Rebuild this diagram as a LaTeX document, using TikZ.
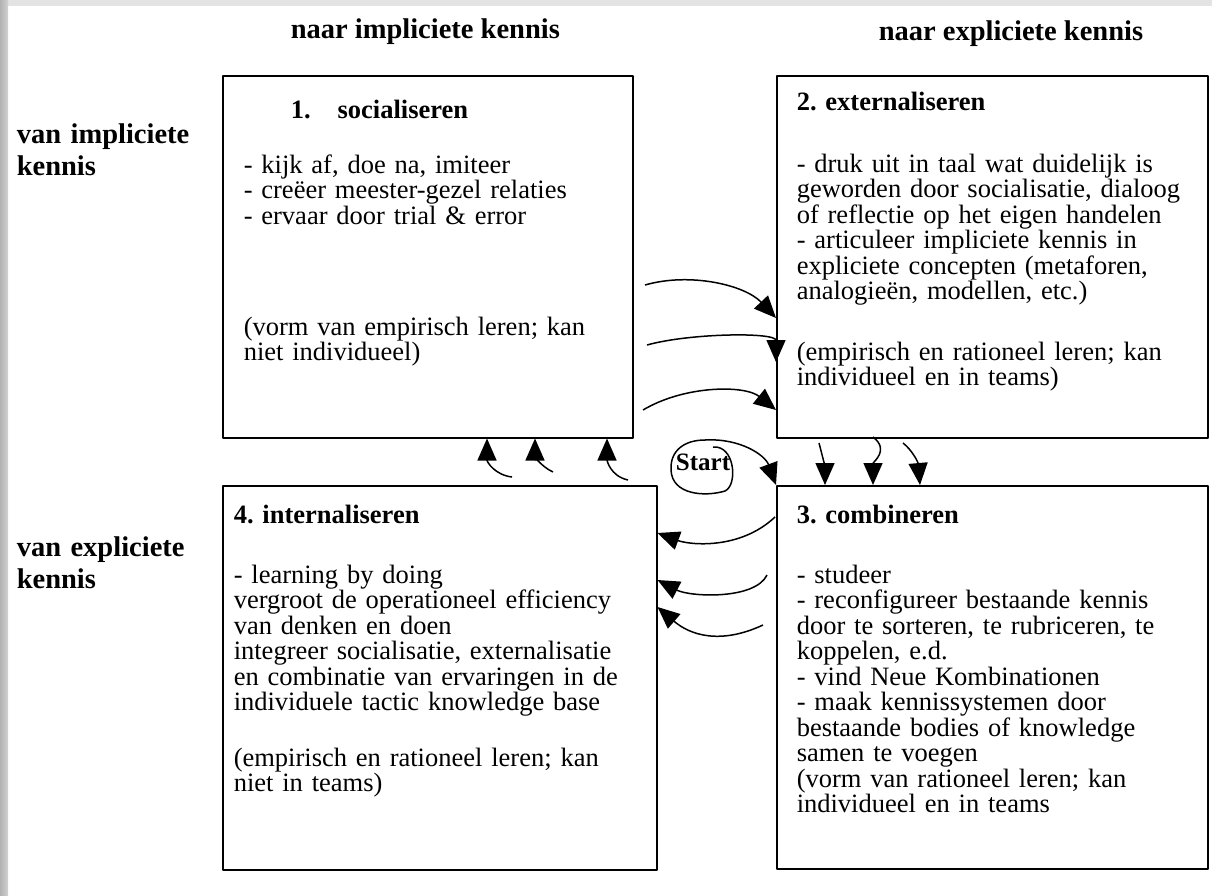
\documentclass[tikz,border=0pt]{standalone}
\usepackage{fontspec}
\setmainfont{Liberation Serif}
\usepackage{tikz}
\usetikzlibrary{arrows.meta}

\begin{document}
\begin{tikzpicture}[x=1pt, y=-1pt, ->, >={Triangle[length=22pt,width=19pt]}, line join=bevel]
	\pgfsetlinewidth{1.5bp}
	\pgfsetcolor{black}

	\tikzstyle{kwadrant} = [draw, shape=rectangle, anchor=north west, inner sep=0pt, line width=1.5pt];
	\tikzstyle{kop} = [anchor=base west, inner sep=0pt, font=\fontsize{28.5}{32}\selectfont\bfseries];
	\tikzstyle{zijkop} = [kop, text width=200pt, align=left];
	\tikzstyle{titel} = [anchor=base west, inner sep=0pt, font=\fontsize{26.5}{25.5}\selectfont\bfseries];
	\tikzstyle{tekst} = [anchor=base west, inner sep=0pt, text width=440pt, align=left, font=\fontsize{26.5}{25.5}\selectfont];
	\tikzstyle{pijl} = [->, line width=1.5pt];

	\useasboundingbox (0,0) rectangle (1212,895);
	\fill[-, gray!22] (0,0) rectangle (1212,6);
	\shade[-, left color=gray!60, right color=gray!35] (0,0) rectangle (8,895);

	\node[kop] at (290,38) (naarimp) {naar impliciete kennis};
	\node[kop] at (878,40) (naarexp) {naar expliciete kennis};
	\node[zijkop] at (16,143) (vanimp) {van impliciete\\kennis};
	\node[zijkop] at (16,556) (vanexp) {van expliciete\\kennis};

	\node[kwadrant, minimum width=410pt, minimum height=362pt] at (222,75) (1) {};
	\node[kwadrant, minimum width=431pt, minimum height=362pt] at (776,75) (2) {};
	\node[kwadrant, minimum width=431pt, minimum height=383pt] at (776,485) (3) {};
	\node[kwadrant, minimum width=434pt, minimum height=384pt] at (222,485) (4) {};

	\node[titel] at (290,118) (1t) {1.\hspace{27pt}socialiseren};
	\node[tekst] at (243,173) (1b) {- kijk af, doe na, imiteer\\- creëer meester-gezel relaties\\- ervaar door trial \& error\\[85.5pt](vorm van empirisch leren; kan\\niet individueel)};

	\node[titel] at (796,110) (2t) {2. externaliseren};
	\node[tekst] at (796,172) (2b) {- druk uit in taal wat duidelijk is\\geworden door socialisatie, dialoog\\of reflectie op het eigen handelen\\- articuleer impliciete kennis in\\expliciete concepten (metaforen,\\analogieën, modellen, etc.)\\[35pt](empirisch en rationeel leren; kan\\individueel en in teams)};

	\node[titel] at (796,523) (3t) {3. combineren};
	\node[tekst] at (796,583) (3b) {- studeer\\- reconfigureer bestaande kennis\\door te sorteren, te rubriceren, te\\koppelen, e.d.\\- vind Neue Kombinationen\\- maak kennissystemen door\\bestaande bodies of knowledge\\samen te voegen\\(vorm van rationeel leren; kan\\individueel en in teams};

	\node[titel] at (233,523) (4t) {4. internaliseren};
	\node[tekst] at (233,583) (4b) {- learning by doing\\vergroot de operationeel efficiency\\van denken en doen\\integreer socialisatie, externalisatie\\en combinatie van ervaringen in de\\individuele tactic knowledge base\\[30pt](empirisch en rationeel leren; kan\\niet in teams)};

	\node[anchor=base, inner sep=0pt, font=\fontsize{25}{25}\selectfont\bfseries] at (703,470) (start) {Start};

	\coordinate (a1) at (645,285);
	\coordinate (a2) at (647,345);
	\coordinate (a3) at (643,410);
	\coordinate (b1) at (819,443);
	\coordinate (b2) at (873,437);
	\coordinate (b3) at (903,443);
	\coordinate (c1) at (775,517);
	\coordinate (c2) at (767,575);
	\coordinate (c3) at (763,625);
	\coordinate (d1) at (512,477);
	\coordinate (d2) at (553,472);
	\coordinate (d3) at (628,480);
	\coordinate (s0) at (713,447);

	\draw[pijl] (a1) .. controls (690,272) and (745,285) .. (2.west |- 0,318);
	\draw[pijl] (a2) .. controls (690,333) and (776,332) .. (2.west |- 0,362);
	\draw[pijl] (a3) .. controls (685,385) and (745,385) .. (2.west |- 0,410);

	\draw[pijl] (b1) .. controls (823,458) and (825,468) .. (3.north -| 825,0);
	\draw[pijl] (b2) .. controls (890,450) and (873,462) .. (3.north -| 873,0);
	\draw[pijl] (b3) .. controls (912,450) and (918,462) .. (3.north -| 920,0);

	\draw[pijl] (c1) .. controls (740,550) and (690,545) .. (4.east |- 0,533);
	\draw[pijl] (c2) .. controls (755,600) and (690,597) .. (4.east |- 0,580);
	\draw[pijl] (c3) .. controls (720,645) and (690,635) .. (4.east |- 0,607);

	\draw[pijl] (d1) .. controls (495,475) and (487,462) .. (1.south -| 487,0);
	\draw[pijl] (d2) .. controls (540,466) and (535,455) .. (1.south -| 535,0);
	\draw[pijl] (d3) .. controls (610,476) and (607,460) .. (1.south -| 607,0);

	\draw[pijl] (s0) .. controls (735,445) and (738,485) .. (725,491)
		.. controls (705,497) and (672,495) .. (671,470)
		.. controls (670,450) and (685,440) .. (705,440)
		.. controls (740,438) and (765,455) .. (3.north west);
\end{tikzpicture}
\end{document}
